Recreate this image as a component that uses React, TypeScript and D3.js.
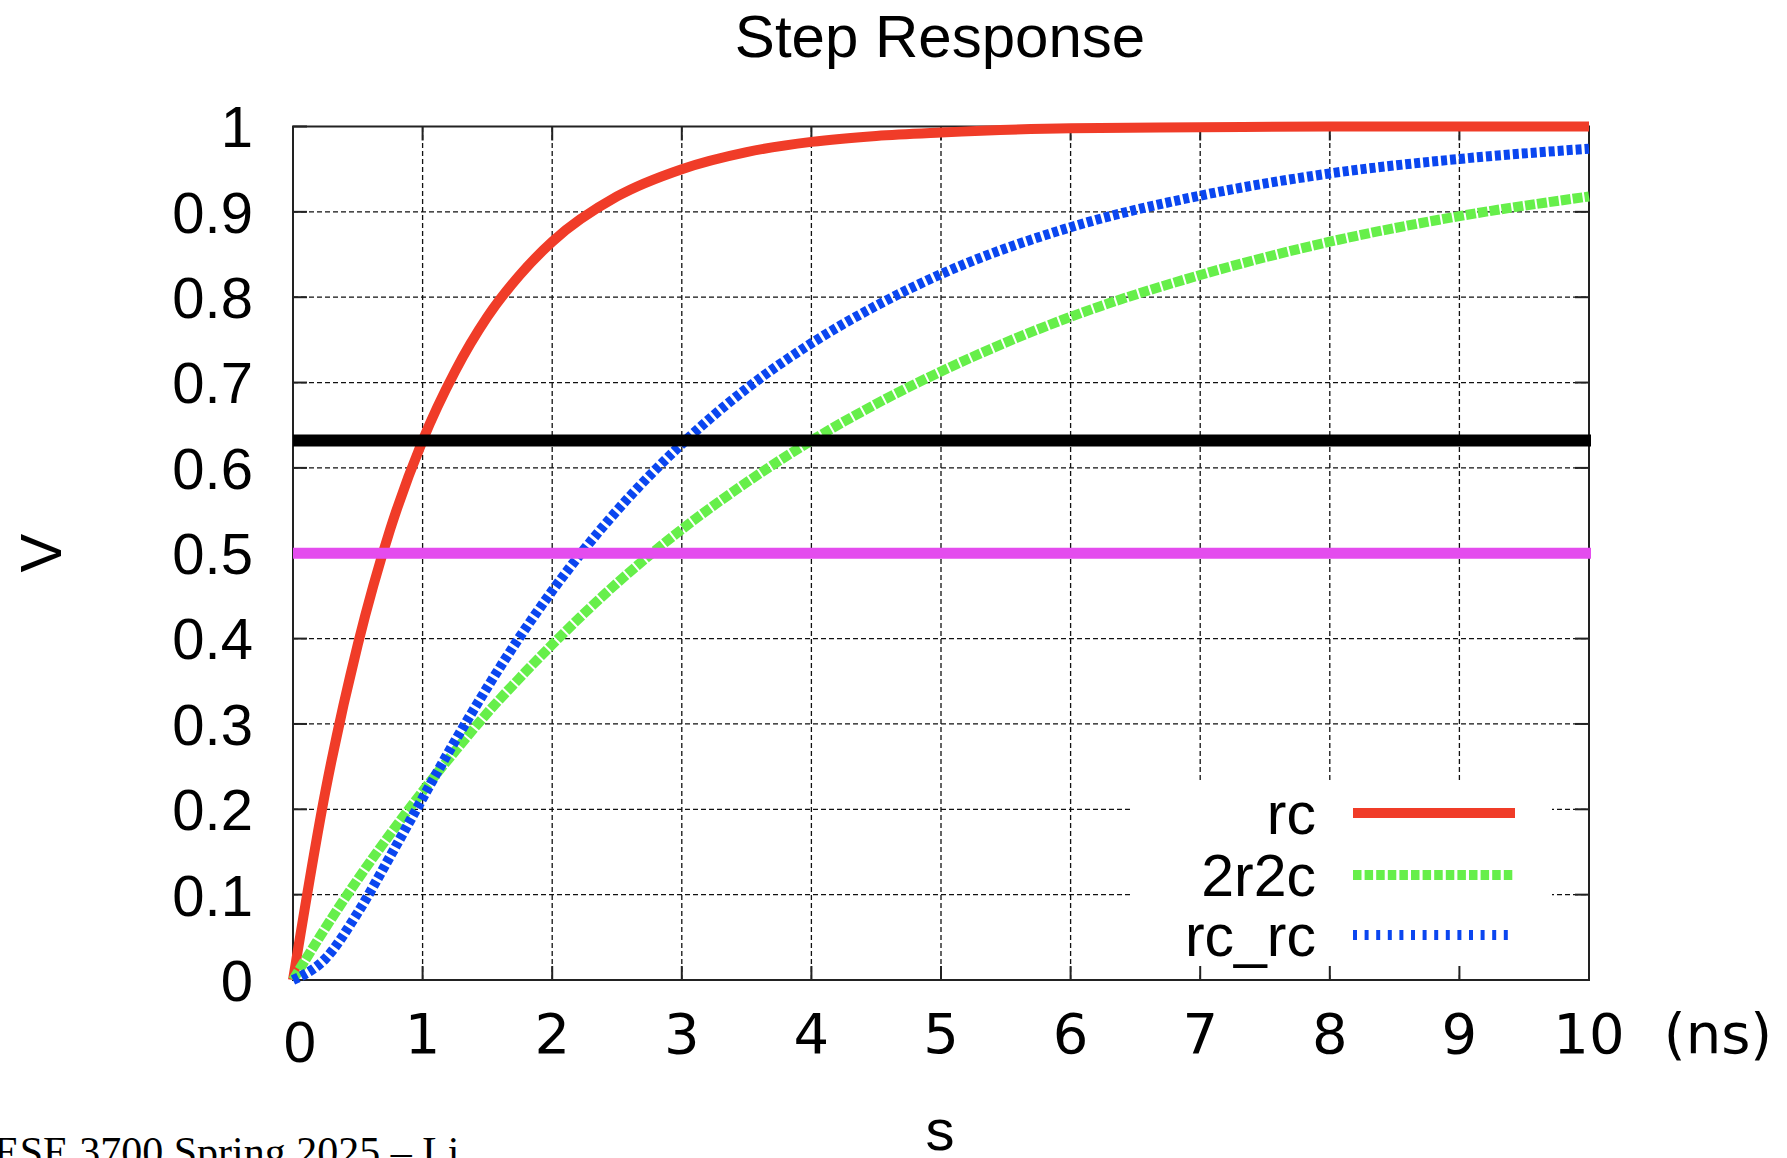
import * as d3 from 'd3';

// time samples (ns) and the three step responses
const times = [0, 0.25, 0.5, 0.75, 1, 1.25, 1.5, 1.75, 2, 2.5, 3, 3.5, 4, 4.5, 5, 6, 7, 8, 9, 10];
const rcValues = [0, 0.221, 0.393, 0.528, 0.632, 0.713, 0.777, 0.826, 0.865, 0.918, 0.95, 0.97, 0.982, 0.989, 0.993, 0.998, 0.999, 1.0, 1.0, 1.0];
const r2c2Values = [0, 0.061, 0.118, 0.171, 0.221, 0.268, 0.313, 0.354, 0.393, 0.465, 0.528, 0.583, 0.632, 0.675, 0.713, 0.777, 0.826, 0.865, 0.895, 0.918];
const rcrcValues = [0, 0.025, 0.079, 0.145, 0.213, 0.28, 0.343, 0.402, 0.456, 0.55, 0.628, 0.693, 0.746, 0.79, 0.827, 0.882, 0.919, 0.945, 0.962, 0.974];

const xTicks = [0, 1, 2, 3, 4, 5, 6, 7, 8, 9, 10];
const yTicks = [0, 0.1, 0.2, 0.3, 0.4, 0.5, 0.6, 0.7, 0.8, 0.9, 1];
const yTickLabels = ['0', '0.1', '0.2', '0.3', '0.4', '0.5', '0.6', '0.7', '0.8', '0.9', '1'];

const thresholdTau = 0.632;
const thresholdHalf = 0.5;

const series = [
  { name: 'rc', values: rcValues, color: '#f03c28', dash: null, legendDash: null },
  { name: '2r2c', values: r2c2Values, color: '#66ef4a', dash: '10,2', legendDash: '8.5,3.1' },
  { name: 'rc_rc', values: rcrcValues, color: '#0a46f0', dash: '6,3', legendDash: '4,7.6' },
];

const W = 1787;
const H = 1158;
const gnuFont = '"Liberation Sans", Arial, sans-serif';
const slideFont = '"DejaVu Sans", Verdana, sans-serif';

export default function App() {
  const x = d3.scaleLinear().domain([0, 10]).range([293, 1589]);
  const y = d3.scaleLinear().domain([0, 1]).range([980, 126.5]);
  const [x0, x1] = x.range();
  const [y0, y1] = y.range();
  const tick = 14;

  const line = (vals: number[]) =>
    d3.line<number>()
      .x((_, i) => x(times[i]))
      .y(d => y(d))
      .curve(d3.curveMonotoneX)(vals) || '';

  // legend box
  const lgLeft = 1131, lgRight = 1552, lgTop = 783, lgBottom = 975;
  const lgRows = [813, 875, 935];

  return (
    <svg width={W} height={H} style={{ position: 'absolute', left: 0, top: 0, background: '#fff' }}>
      <rect x={0} y={0} width={W} height={H} fill="#fff" />

      <text x={940} y={57} textAnchor="middle" fontFamily={gnuFont} fontSize={60} fill="#000">
        Step Response
      </text>

      {/* grid */}
      {xTicks.slice(1, -1).map(t => (
        <line key={'gx' + t} x1={x(t)} x2={x(t)} y1={y0} y2={y1}
          stroke="#111" strokeWidth={1.3} strokeDasharray="5,3" />
      ))}
      {yTicks.slice(1, -1).map(t => (
        <line key={'gy' + t} x1={x0} x2={x1} y1={y(t)} y2={y(t)}
          stroke="#111" strokeWidth={1.3} strokeDasharray="5,3" />
      ))}

      {/* legend background hides the grid */}
      <rect x={lgLeft} y={lgTop} width={lgRight - lgLeft} height={lgBottom - lgTop} fill="#fff" />

      {/* tick marks on all four borders */}
      {xTicks.map(t => (
        <g key={'tx' + t}>
          <line x1={x(t)} x2={x(t)} y1={y0} y2={y0 - tick} stroke="#222" strokeWidth={2} />
          <line x1={x(t)} x2={x(t)} y1={y1} y2={y1 + tick} stroke="#222" strokeWidth={2} />
        </g>
      ))}
      {yTicks.map(t => (
        <g key={'ty' + t}>
          <line x1={x0} x2={x0 + tick} y1={y(t)} y2={y(t)} stroke="#222" strokeWidth={2} />
          <line x1={x1} x2={x1 - tick} y1={y(t)} y2={y(t)} stroke="#222" strokeWidth={2} />
        </g>
      ))}

      <rect x={x0} y={y1} width={x1 - x0} height={y0 - y1} fill="none" stroke="#222" strokeWidth={2} />

      {/* y tick labels */}
      {yTicks.map((t, i) => (
        <text key={'yl' + t} x={253} y={y(t)} dy="0.36em" textAnchor="end"
          fontFamily={gnuFont} fontSize={58} fill="#000">
          {yTickLabels[i]}
        </text>
      ))}

      <text transform={`translate(40,${(y0 + y1) / 2}) rotate(-90)`} textAnchor="middle" dy="0.36em"
        fontFamily={gnuFont} fontSize={58} fill="#000">V</text>

      {/* curves */}
      {series.map(s => (
        <path key={s.name} d={line(s.values)} fill="none" stroke={s.color} strokeWidth={10}
          strokeDasharray={s.dash || undefined} strokeLinejoin="round" />
      ))}

      {/* legend */}
      {series.map((s, i) => (
        <g key={'lg' + s.name}>
          <text x={1316} y={lgRows[i]} dy="0.36em" textAnchor="end" fontFamily={gnuFont} fontSize={59} fill="#000">
            {s.name}
          </text>
          <line x1={1353} x2={1515} y1={lgRows[i]} y2={lgRows[i]} stroke={s.color} strokeWidth={10}
            strokeDasharray={s.legendDash || undefined} />
        </g>
      ))}

      {/* reference levels */}
      <line x1={x0} x2={x1 + 2} y1={y(thresholdTau)} y2={y(thresholdTau)} stroke="#000" strokeWidth={12} />
      <line x1={x0} x2={x1 + 2} y1={y(thresholdHalf)} y2={y(thresholdHalf)} stroke="#e44cee" strokeWidth={11} />

      {/* x tick labels */}
      {xTicks.map(t => t === 0 ? (
        <text key={'xl' + t} x={x(t) + 7} y={1062} textAnchor="middle" fontFamily={gnuFont} fontSize={58} fill="#000">
          {t}
        </text>
      ) : (
        <text key={'xl' + t} x={x(t)} y={1053} textAnchor="middle" fontFamily={slideFont} fontSize={56} fill="#000">
          {t}
        </text>
      ))}
      <text x={1718} y={1053} textAnchor="middle" fontFamily={slideFont} fontSize={56} fill="#000">(ns)</text>

      <text x={940} y={1150} textAnchor="middle" fontFamily={gnuFont} fontSize={58} fill="#000">s</text>

      <text x={-6} y={1166} fontFamily='"Liberation Serif", "Times New Roman", serif' fontSize={42} fill="#000">
        ESE 3700 Spring 2025 – Li
      </text>
    </svg>
  );
}
